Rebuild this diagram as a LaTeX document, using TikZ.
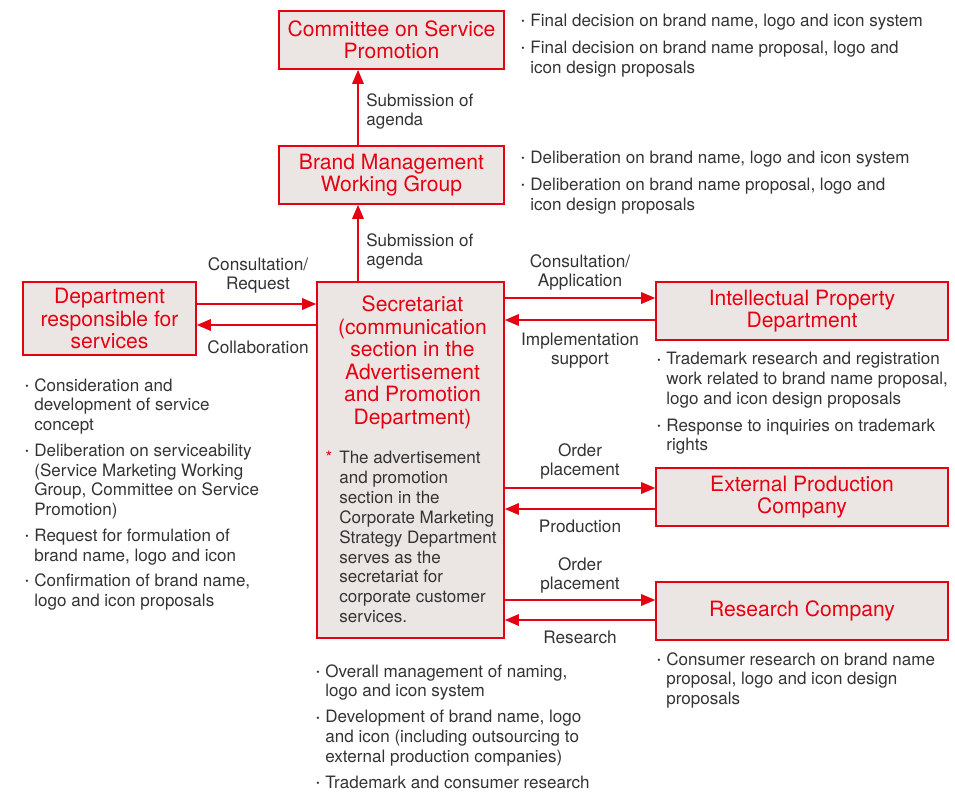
\documentclass[tikz,border=0pt]{standalone}
\usepackage{fontspec}
\setmainfont{TeX Gyre Heros}
\usepackage{xcolor}
\usepackage{graphicx}
\usetikzlibrary{arrows.meta,positioning}
\definecolor{brandred}{HTML}{E60012}
\definecolor{boxgray}{HTML}{EBE6E4}
\definecolor{textgray}{HTML}{333333}

% bullet in the left margin of a note
\newcommand{\itm}{\leavevmode\llap{\makebox[5.1pt][l]{\raisebox{0.2ex}{\scalebox{0.55}{\textbullet}}}}}

\tikzset{
  box/.style={draw=brandred, fill=boxgray, text=brandred, line width=0.9pt,
    align=center, inner sep=0pt, font=\fontsize{12}{12.8}\selectfont},
  arr/.style={draw=brandred, line width=1.1pt, -{Triangle[length=8pt,width=6.5pt]}},
  lbl/.style={text=textgray, align=center, inner sep=0pt,
    font=\fontsize{9.8}{10.9}\selectfont},
  note/.style={text=textgray, align=left, anchor=north west, inner sep=0pt,
    font=\fontsize{9.7}{11.3}\selectfont},
}

\begin{document}
\begin{tikzpicture}[x=0.02cm, y=-0.02cm]

\useasboundingbox (0,0) rectangle (955,792);

% Boxes
\node[box, minimum width=4.5cm, minimum height=1.16cm] (committee) at (391.5,40) {Committee on Service\\Promotion};
\node[box, minimum width=4.5cm, minimum height=1.16cm] (bm) at (391.5,175) {Brand Management\\Working Group};
\node[box, minimum width=3.74cm, minimum height=7.12cm] (sec) at (410.5,460) {};
\node[box, minimum width=3.46cm, minimum height=1.46cm] (dept) at (109.5,318.5) {Department\\responsible for\\services};
\node[box, minimum width=5.84cm, minimum height=1.16cm] (ip) at (802,311) {Intellectual Property\\Department};
\node[box, minimum width=5.84cm, minimum height=1.16cm] (ext) at (802,497) {External Production\\Company};
\node[box, minimum width=5.84cm, minimum height=1.16cm] (res) at (802,611) {Research Company};

% Secretariat contents
\node[box, draw=none, fill=none] (sectitle) at (412.5,362.5) {Secretariat\\(communication\\section in the\\Advertisement\\and Promotion\\Department)};
\node[note] (secnote) at (339,451) {\llap{\textcolor{brandred}{*}\hspace{4pt}}The advertisement\\and promotion\\section in the\\Corporate Marketing\\Strategy Department\\serves as the\\secretariat for\\corporate customer\\services.};

% Vertical arrows
\draw[arr] (bm.north -| 358,0) -- (committee.south -| 358,0);
\draw[arr] (sec.north -| 358,0) -- (bm.south -| 358,0);
\node[note, anchor=north west] (sub1) at (366,93) {Submission of\\agenda};
\node[note, anchor=north west] (sub2) at (366,233) {Submission of\\agenda};

% Department <-> Secretariat
\draw[arr] (dept.east |- 0,304) -- (sec.west |- 0,304);
\draw[arr] (sec.west |- 0,325) -- (dept.east |- 0,325);
\node[lbl] (consreq) at (258,275.5) {Consultation/\\Request};
\node[lbl] (collab) at (258,347) {Collaboration};

% Secretariat <-> Intellectual Property
\draw[arr] (sec.east |- 0,298) -- (ip.west |- 0,298);
\draw[arr] (ip.west |- 0,320) -- (sec.east |- 0,320);
\node[lbl] (consapp) at (580,272.5) {Consultation/\\Application};
\node[lbl] (impl) at (580,350.5) {Implementation\\support};

% Secretariat <-> External Production
\draw[arr] (sec.east |- 0,488) -- (ext.west |- 0,488);
\draw[arr] (ext.west |- 0,509) -- (sec.east |- 0,509);
\node[lbl] (order1) at (580,461.5) {Order\\placement};
\node[lbl] (prod) at (580,526) {Production};

% Secretariat <-> Research
\draw[arr] (sec.east |- 0,600) -- (res.west |- 0,600);
\draw[arr] (res.west |- 0,620) -- (sec.east |- 0,620);
\node[lbl] (order2) at (580,575.5) {Order\\placement};
\node[lbl] (research) at (580,637) {Research};

% Notes
\node[note] (comnote) at (530,14) {\itm Final decision on brand name, logo and icon system\\[3.8pt]
  \itm Final decision on brand name proposal, logo and\\icon design proposals};
\node[note] (bmnote) at (530,151) {\itm Deliberation on brand name, logo and icon system\\[3.8pt]
  \itm Deliberation on brand name proposal, logo and\\icon design proposals};
\node[note] (deptnote) at (34,378) {\itm Consideration and\\development of service\\concept\\[3.2pt]
  \itm Deliberation on serviceability\\(Service Marketing Working\\Group, Committee on Service\\Promotion)\\[3.2pt]
  \itm Request for formulation of\\brand name, logo and icon\\[3.2pt]
  \itm Confirmation of brand name,\\logo and icon proposals};
\node[note] (ipnote) at (666,352) {\itm Trademark research and registration\\work related to brand name proposal,\\logo and icon design proposals\\[3.8pt]
  \itm Response to inquiries on trademark\\rights};
\node[note] (resnote) at (666,652) {\itm Consumer research on brand name\\proposal, logo and icon design\\proposals};
\node[note] (secbul) at (325,664) {\itm Overall management of naming,\\logo and icon system\\[3.5pt]
  \itm Development of brand name, logo\\and icon (including outsourcing to\\external production companies)\\[3.5pt]
  \itm Trademark and consumer research};

\end{tikzpicture}
\end{document}
